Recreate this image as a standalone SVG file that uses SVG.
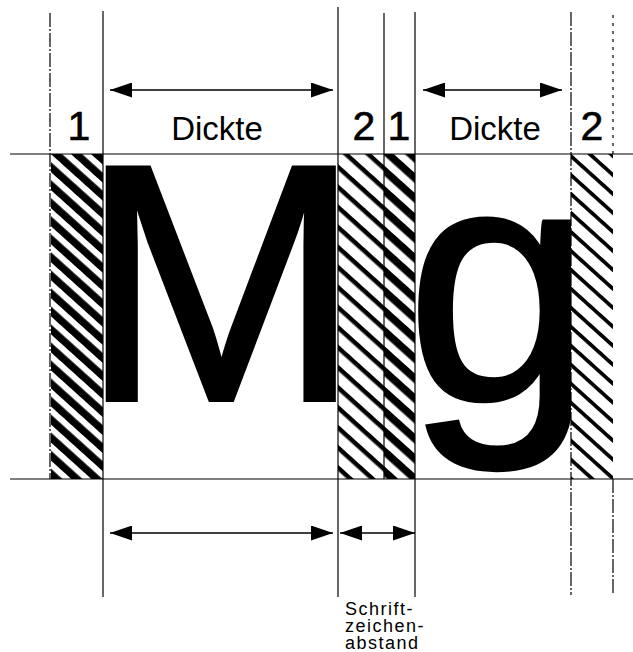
<svg xmlns="http://www.w3.org/2000/svg" width="633" height="652" viewBox="0 0 633 652">
<style>
  .guide { stroke:#000; stroke-width:1.2; fill:none; }
  .dashdot { stroke-dasharray:14 2 2 2; }
  .dotted { stroke-dasharray:3 5; }
  .arrow { stroke:#000; stroke-width:1.6; fill:none; marker-start:url(#ah); marker-end:url(#ah); }
  .lbl { font-family:"Liberation Sans", Arial, Helvetica, sans-serif; fill:#000; text-anchor:middle; }
  .digit { font-size:41px; stroke:#000; stroke-width:0.6; }
  .word { font-size:33px; }
  .glyph { font-family:"Liberation Sans", Arial, Helvetica, sans-serif; font-size:338px; fill:#000; stroke:#000; stroke-width:4; stroke-linejoin:miter; }
  .note { font-family:"Liberation Sans", Arial, Helvetica, sans-serif; font-size:18px; letter-spacing:1.5px; fill:#000; }
</style>
<defs>
  <marker id="ah" markerUnits="userSpaceOnUse" markerWidth="22" markerHeight="15" refX="22" refY="7.5" orient="auto-start-reverse">
    <path d="M0,0 L22,7.5 L0,15 Z" fill="#000"/>
  </marker>
  <pattern id="h1" patternUnits="userSpaceOnUse" width="20" height="13.4" patternTransform="rotate(42)">
    <rect width="20" height="13.4" fill="#000"/>
    <rect width="20" height="6" fill="#fff"/>
  </pattern>
  <pattern id="h2" patternUnits="userSpaceOnUse" width="20" height="14.9" patternTransform="rotate(42)">
    <rect width="20" height="14.9" fill="#fff"/>
    <rect width="20" height="4.5" fill="#000"/>
  </pattern>
  <pattern id="h3" patternUnits="userSpaceOnUse" width="20" height="14.9" patternTransform="rotate(42)">
    <rect width="20" height="14.9" fill="#fff"/>
    <rect width="20" height="7.5" fill="#000"/>
  </pattern>
  <pattern id="h4" patternUnits="userSpaceOnUse" width="20" height="14.1" patternTransform="rotate(42)">
    <rect width="20" height="14.1" fill="#fff"/>
    <rect width="20" height="3.7" fill="#000"/>
  </pattern>
</defs>
<rect width="633" height="652" fill="#fff"/>

<g id="glyph-M"><text class="glyph" x="80" y="400">M</text></g>
<g id="glyph-g"><text class="glyph" x="406" y="400">g</text></g>

<g id="sidebearing-M-left"><rect x="51" y="154" width="52" height="325" fill="url(#h1)"/></g>
<g id="sidebearing-M-right"><rect x="338" y="154" width="46" height="325" fill="url(#h2)"/></g>
<g id="sidebearing-g-left"><rect x="384" y="154" width="31" height="325" fill="url(#h3)"/></g>
<g id="sidebearing-g-right"><rect x="571" y="154" width="42" height="325" fill="url(#h4)"/></g>

<g id="connectors">
  <line class="guide" x1="10" y1="154" x2="633" y2="154"/>
  <line class="guide" x1="10" y1="479" x2="633" y2="479"/>
  <line class="guide dashdot" x1="50" y1="13" x2="50" y2="479"/>
  <line class="guide" x1="103" y1="11" x2="103" y2="597"/>
  <line class="guide" x1="338" y1="7" x2="338" y2="597"/>
  <line class="guide" x1="384" y1="13" x2="384" y2="479"/>
  <line class="guide" x1="415" y1="12" x2="415" y2="597"/>
  <line class="guide dashdot" x1="571" y1="12" x2="571" y2="595"/>
  <line class="guide dotted" x1="613" y1="15" x2="613" y2="154"/>
  <line class="guide dashdot" x1="613" y1="479" x2="613" y2="595"/>
  <line class="arrow" x1="110" y1="90" x2="333" y2="90"/>
  <line class="arrow" x1="423" y1="90" x2="562" y2="90"/>
  <line class="arrow" x1="110" y1="533" x2="333" y2="533"/>
  <line class="arrow" x1="340" y1="533" x2="415" y2="533"/>
</g>

<g id="label-1a"><text class="lbl digit" x="79" y="140">1</text></g>
<g id="label-dickte-M"><text class="lbl word" x="217" y="140">Dickte</text></g>
<g id="label-2a"><text class="lbl digit" x="364" y="140">2</text></g>
<g id="label-1b"><text class="lbl digit" x="399" y="140">1</text></g>
<g id="label-dickte-g"><text class="lbl word" x="495" y="140">Dickte</text></g>
<g id="label-2b"><text class="lbl digit" x="592" y="140">2</text></g>

<g id="label-abstand">
  <text class="note" x="345" y="615">Schrift-</text>
  <text class="note" x="345" y="632">zeichen-</text>
  <text class="note" x="345" y="649">abstand</text>
</g>
</svg>
